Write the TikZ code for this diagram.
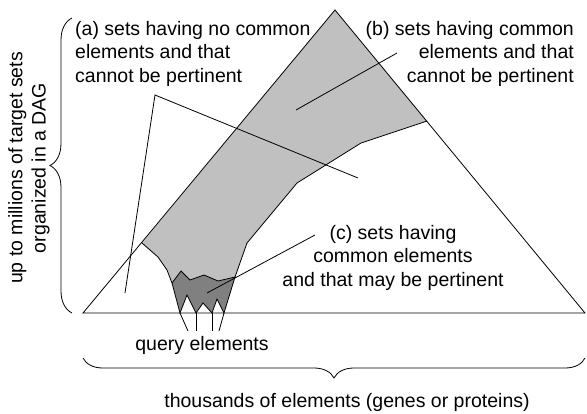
\documentclass[tikz,border=0pt]{standalone}
\usepackage{fontspec}
\setmainfont{Liberation Sans}
\usetikzlibrary{decorations.pathreplacing}
\definecolor{lightg}{RGB}{192,192,192}
\definecolor{darkg}{RGB}{128,128,128}
\tikzset{
  outline/.style={draw=black, line width=0.8pt, line join=miter},
  leader/.style={draw=black, line width=0.8pt},
  lbl/.style={inner sep=0pt, font=\fontsize{19.5}{23.4}\selectfont},
  bracedec/.style={draw=black, line width=0.8pt, decorate, decoration={brace, amplitude=#1}}
}
\begin{document}
\begin{tikzpicture}[x=1pt, y=-1pt]
\useasboundingbox (0,0) rectangle (587,413);
% corners
\coordinate (apex) at (335,10);
\coordinate (bl) at (83,313);
\coordinate (br) at (585,313);
% light region
\fill[lightg] (apex) -- (427,121) -- (361,143) -- (297,183) -- (247,243) -- (235,277)
  -- (218,281) -- (204,275) -- (190,280) -- (181,271) -- (172,283)
  -- (167,270) -- (158,257) -- (142,243) -- cycle;
\draw[outline] (427,121) -- (361,143) -- (297,183) -- (247,243) -- (235,277);
\draw[outline] (172,283) -- (167,270) -- (158,257) -- (142,243);
% dark region
\filldraw[fill=darkg, outline] (172,283) -- (181,271) -- (190,280) -- (204,275) -- (218,281) -- (235,277)
  -- (224,313) -- (217,299) -- (212,313) -- (203,303) -- (196,313) -- (187,295) -- (180,313) -- cycle;
% triangle
\draw[outline] (bl) -- (apex) -- (br) -- cycle;
% query lines
\coordinate (q1) at (188,331);
\coordinate (q2) at (196,331);
\coordinate (q3) at (212,331);
\coordinate (q4) at (219,331);
\draw[leader] (180,313) -- (q1);
\draw[leader] (196,313) -- (q2);
\draw[leader] (212,313) -- (q3);
\draw[leader] (224,313) -- (q4);
% labels
\node[lbl, anchor=base west, align=left] (la) at (75,82) {(a) sets having no common\\elements and that\\cannot be pertinent};
\node[lbl, anchor=base east, align=right] (lb) at (574,82) {(b) sets having common\\elements and that\\cannot be pertinent};
\node[lbl, anchor=base, align=center] (lc) at (393,286) {(c) sets having\\common elements\\and that may be pertinent};
\node[lbl, anchor=base] (lq) at (202,350) {query elements};
\node[lbl, anchor=base] (lt) at (347,407) {thousands of elements (genes or proteins)};
\node[lbl, rotate=90, align=center] (ll) at (29,168) {up to millions of target sets\\organized in a DAG};
% leaders
\coordinate (a0) at (155,95);
\coordinate (a1) at (125,293);
\coordinate (a2) at (358,178);
\coordinate (b0) at (397,53);
\coordinate (b1) at (296,110);
\coordinate (c0) at (315,235);
\coordinate (c1) at (207,293);
\draw[leader] (a1) -- (a0) -- (a2);
\draw[leader] (b0) -- (b1);
\draw[leader] (c0) -- (c1);
% braces
\draw[bracedec=22pt] (72,313) -- (72,18);
\draw[bracedec=20pt] (585,358) -- (83,358);
\end{tikzpicture}
\end{document}
